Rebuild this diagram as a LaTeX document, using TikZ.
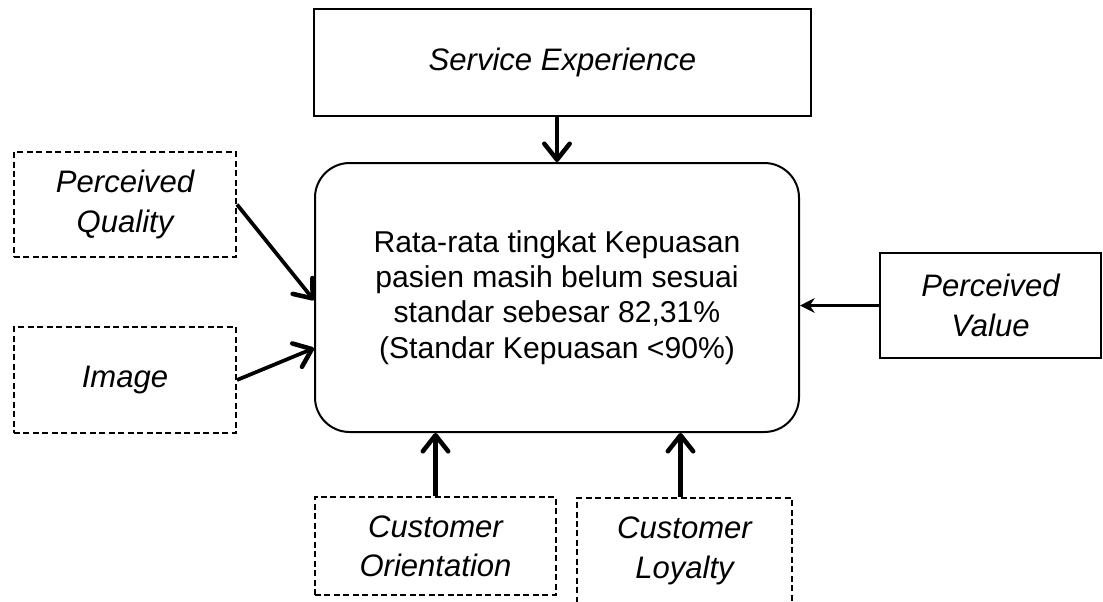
\documentclass[tikz,border=0pt]{standalone}
\usepackage{fontspec}
\setmainfont{Liberation Sans}
\usetikzlibrary{arrows.meta}
\tikzset{
	solidbox/.style={draw,line width=1.7pt,align=center,inner sep=0pt,
		font=\fontsize{23.3}{29.5}\selectfont\itshape},
	dashbox/.style={solidbox,line width=1.5pt,dash pattern=on 4.5pt off 2.6pt},
	bigarrow/.style={line width=#1,-{Straight Barb[length=12pt,width=19pt,line width=3.4pt,round]}},
}
\begin{document}
\begin{tikzpicture}[x=0.75pt,y=-0.75pt]
	\useasboundingbox (0,0) rectangle (1103,601);
	\clip (0,0) rectangle (1103,601);
	% kotak tengah
	\node[draw,line width=1.5pt,rounded corners=26pt,minimum width=363pt,
		minimum height=201.75pt,align=center,
		font=\fontsize{22.6}{26.5}\selectfont] (mid) at (557,297.5)
		{Rata-rata tingkat Kepuasan\\pasien masih belum sesuai\\standar sebesar 82,31\%\\(Standar Kepuasan <90\%)};
	% faktor
	\node[solidbox,minimum width=372.75pt,minimum height=80.25pt] (se) at (562.5,62.5) {Service Experience};
	\node[dashbox,minimum width=166.5pt,minimum height=78.75pt] (pq) at (125,204.5) {Perceived\\Quality};
	\node[dashbox,minimum width=166.5pt,minimum height=79.5pt] (im) at (125,380) {Image};
	\node[solidbox,minimum width=165.75pt,minimum height=78.75pt] (pv) at (990.5,305.5) {Perceived\\Value};
	\node[dashbox,minimum width=180.75pt,minimum height=73.5pt] (co) at (435.5,546) {Customer\\Orientation};
	\node[dashbox,minimum width=161.25pt,minimum height=86.25pt,text depth=12pt] (cl) at (684.5,555.5) {Customer\\Loyalty};
	% panah
	\draw[bigarrow=3.6pt] (se.south -| mid.north) -- (mid.north);
	\draw[bigarrow=2.8pt] (pq.east) -- ([yshift=-2pt]mid.west);
	\draw[bigarrow=2.8pt] (im.east) -- ([yshift=-38pt]mid.west);
	\draw[line width=2.4pt,-{Stealth[length=11pt,width=11pt]}] (pv.west) -- (pv.west -| mid.east);
	\draw[bigarrow=4.4pt] (co.north) -- (co.north |- mid.south);
	\draw[bigarrow=4.4pt] ([xshift=-3pt]cl.north) -- ([xshift=-3pt]cl.north |- mid.south);
\end{tikzpicture}
\end{document}
